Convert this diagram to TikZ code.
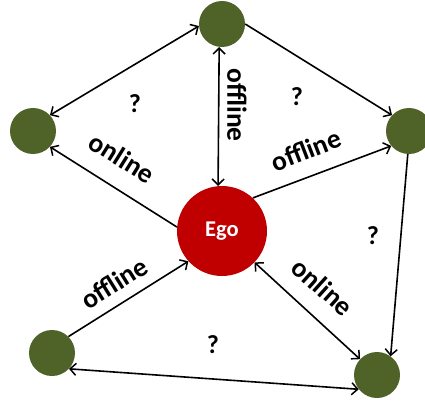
\documentclass[tikz,border=0pt]{standalone}
\usepackage{fontspec}
\setmainfont{Carlito}
\usetikzlibrary{arrows.meta}
\definecolor{ndgreen}{RGB}{79,98,40}
\definecolor{egored}{RGB}{192,0,0}
\begin{document}
\begin{tikzpicture}[x=1pt,y=-1pt,
  peer/.style={circle,fill=ndgreen,minimum size=46pt,inner sep=0pt},
  egonode/.style={circle,fill=egored,minimum size=90pt,inner sep=0pt,text=white,font=\bfseries\fontsize{22.5}{22.5}\selectfont},
  lbl/.style={font=\bfseries\fontsize{27.5}{27.5}\selectfont,inner sep=0pt},
  qlbl/.style={font=\bfseries\fontsize{26}{26}\selectfont,inner sep=0pt},
  link/.style={line width=1.6pt},
  onearrow/.style={link,-{Straight Barb[length=6pt,width=12pt,line width=1.5pt]}},
  twoarrow/.style={link,{Straight Barb[length=6pt,width=12pt,line width=1.5pt]}-{Straight Barb[length=6pt,width=12pt,line width=1.5pt]}}
]
\useasboundingbox (0,0) rectangle (425,401);
\node[peer] (top) at (222,24) {};
\node[peer] (left) at (33,131) {};
\node[peer] (right) at (409,131) {};
\node[peer] (bl) at (52,353) {};
\node[peer] (br) at (377,375) {};
\node[egonode] (ego) at (222,231) {Ego};

\draw[twoarrow] (left.43) -- (top.185);
\draw[onearrow] (top.0) -- (right.137);
\draw[twoarrow] (top.-97) -- (ego.95);
\draw[onearrow] (ego.175) -- (left.-43);
\draw[onearrow] (ego.47) -- (right.220);
\draw[onearrow] (right.-93) -- (br.54);
\draw[onearrow] (bl.45) -- (ego.222);
\draw[twoarrow] (ego.-44) -- (br.137);
\draw[twoarrow] (bl.-43) -- (br.218);

\node[lbl,rotate=-90] (l1) at (237,105) {offline};
\node[lbl,rotate=21] (l2) at (306,150) {offline};
\node[lbl,rotate=-32] (l3) at (122,158) {online};
\node[lbl,rotate=32] (l4) at (114,283) {offline};
\node[lbl,rotate=-42] (l5) at (323,287) {online};
\node[qlbl] (q1) at (135,104) {?};
\node[qlbl] (q2) at (297,97) {?};
\node[qlbl] (q3) at (373,236) {?};
\node[qlbl] (q4) at (213,345) {?};
\end{tikzpicture}
\end{document}
